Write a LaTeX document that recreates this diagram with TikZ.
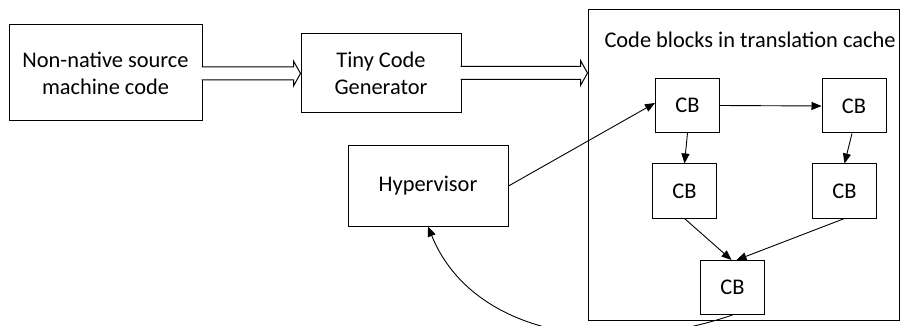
\documentclass[tikz,border=0pt]{standalone}
\usepackage{fontspec}
\setmainfont{Carlito}
\usetikzlibrary{arrows.meta,calc}

\tikzset{
  box/.style={draw, line width=1pt, align=center, inner sep=0pt},
  cb/.style={box, minimum width=64pt, minimum height=54pt},
  link/.style={line width=0.9pt, -{Triangle[length=10pt,width=8pt]}},
  blockarrow/.style={draw, line width=1pt, fill=white, to path={
    ($(\tikztostart)+(-0.8,6.5)$) -- ($(\tikztotarget)+(-7,6.5)$)
    -- ($(\tikztotarget)+(-7,12.5)$) -- (\tikztotarget)
    -- ($(\tikztotarget)+(-7,-12.5)$) -- ($(\tikztotarget)+(-7,-6.5)$)
    -- ($(\tikztostart)+(-0.8,-6.5)$)}}
}

\begin{document}
\begin{tikzpicture}[x=1pt,y=-1pt,font=\fontsize{22.4}{26.7}\selectfont]
\useasboundingbox (0,0) rectangle (905,326);
\clip (0,0) rectangle (905,326);

% pipeline boxes
\node[box, minimum width=193pt, minimum height=96pt] (src) at (105.5,73) {Non-native source\\machine code};
\node[box, minimum width=160pt, minimum height=79pt] (tcg) at (381,73.5) {Tiny Code\\Generator};
\node[box, minimum width=311pt, minimum height=310pt] (cache) at (743.5,165) {};
\node (title) at (750,40) {Code blocks in translation cache};
\node[box, minimum width=160pt, minimum height=80pt] (hyp) at (428,186) {Hypervisor};

% code blocks
\node[cb] (cbA) at (687.5,105.5) {CB};
\node[cb] (cbB) at (854,106) {CB};
\node[cb] (cbC) at (684.5,191) {CB};
\node[cb] (cbD) at (844.5,191) {CB};
\node[cb] (cbE) at (732.5,287.5) {CB};

% translation flow
\path[blockarrow] ([yshift=-0.5]src.east) to ([yshift=-0.5]src.east -| tcg.west);
\path[blockarrow] ([yshift=0.5]tcg.east) to ([yshift=0.5]tcg.east -| cache.west);

% control flow between blocks
\draw[link] (hyp.east) -- ([yshift=2.5]cbA.west);
\draw[link] (cbA.east) -- (cbB.west);
\draw[link] (cbA.south) -- (cbC.north);
\draw[link] ([xshift=-2]cbB.south) -- (cbD.north);
\draw[link] (cbC.south) -- ([xshift=-1]cbE.north);
\draw[link] (cbD.south) -- ([xshift=4]cbE.north);
\draw[link] (cbE.south) .. controls (600,360) and (470,330) .. (hyp.south);
\end{tikzpicture}
\end{document}
